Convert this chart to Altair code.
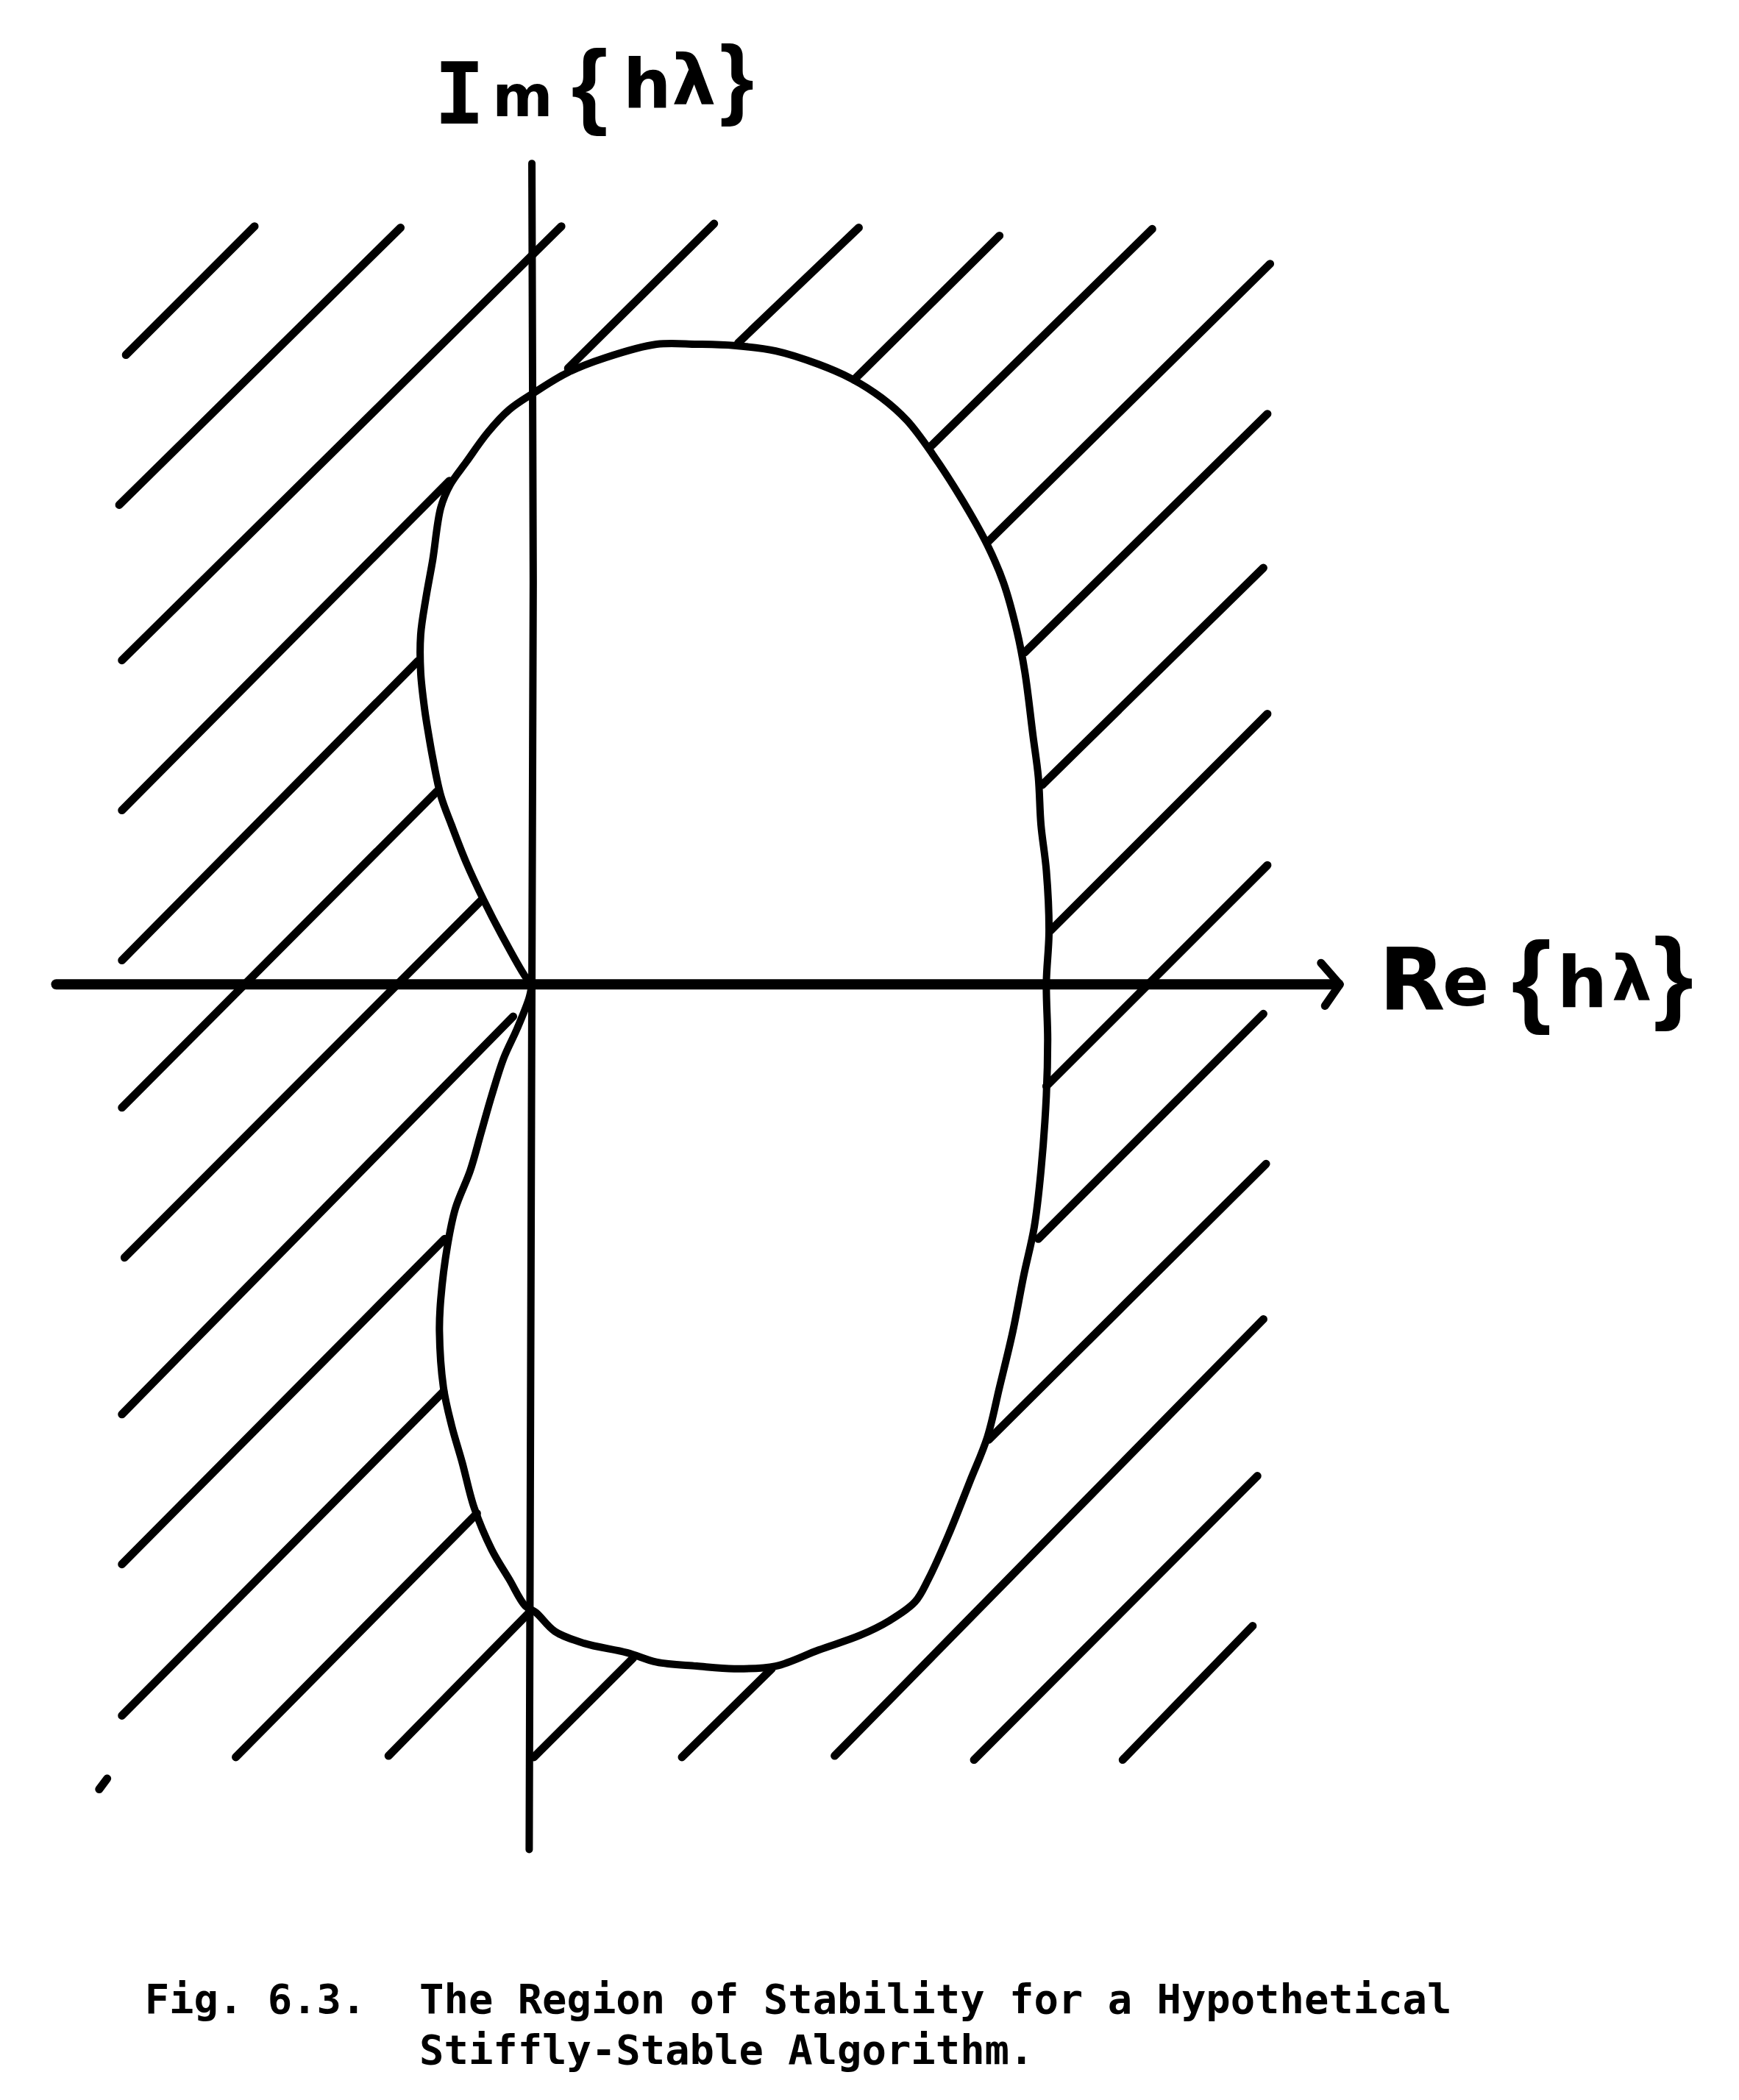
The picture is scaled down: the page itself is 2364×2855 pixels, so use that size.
import altair as alt
import pandas as pd

# ---- diagram units: Re{h lambda} to the right, Im{h lambda} up ----
CURVE_RE = [0.00, -0.05, -0.21, -0.36, -0.49, -0.60, -0.68, -0.74, -0.77, -0.80, -0.83, -0.83, -0.79, -0.74,
            -0.68, -0.61, -0.49, -0.33, -0.17, 0.02, 0.27, 0.55, 0.93, 1.23, 1.51, 1.82, 2.14, 2.39, 2.61,
            2.80, 2.99, 3.21, 3.40, 3.52, 3.62, 3.68, 3.74, 3.78, 3.80, 3.84, 3.86, 3.84, 3.85, 3.84, 3.80,
            3.75, 3.67, 3.59, 3.49, 3.40, 3.27, 3.11, 2.96, 2.86, 2.67, 2.45, 2.14, 1.82, 1.51, 1.23, 0.93,
            0.71, 0.39, 0.17, 0.03, -0.05, -0.17, -0.30, -0.43, -0.52, -0.60, -0.66, -0.69, -0.68, -0.63,
            -0.57, -0.46, -0.38, -0.30, -0.21, -0.11, -0.02, 0.00]
CURVE_IM = [0.00, 0.06, 0.34, 0.63, 0.91, 1.19, 1.41, 1.69, 1.86, 2.05, 2.33, 2.61, 2.89, 3.17,
            3.56, 3.73, 3.90, 4.12, 4.29, 4.42, 4.57, 4.68, 4.78, 4.78, 4.77, 4.73, 4.63, 4.52, 4.38,
            4.21, 3.96, 3.62, 3.28, 3.00, 2.64, 2.33, 1.86, 1.55, 1.19, 0.85, 0.40, 0.01, -0.41, -0.83, -1.39,
            -1.81, -2.18, -2.59, -3.01, -3.38, -3.71, -4.11, -4.44, -4.61, -4.75, -4.86, -4.97, -5.09, -5.11, -5.09, -5.06,
            -4.99, -4.92, -4.83, -4.69, -4.64, -4.44, -4.22, -3.91, -3.57, -3.29, -3.01, -2.59, -2.35, -1.95,
            -1.67, -1.39, -1.11, -0.83, -0.55, -0.33, -0.10, 0.00]

# hatch strokes (start and end)
HATCH_RE1 = [-3.03, -3.08, -3.06, 0.27, 1.54, 2.405, 2.97, 3.41, 3.68, 3.81, 3.87, 3.84, 3.78, 3.41,
             2.26, 3.30, 4.41, 1.12, 0.015, -3.06, -3.06, -3.06, -3.04, -3.06, -3.06, -3.06, -2.21, -1.07,
             -3.23]
HATCH_IM1 = [4.70, 3.58, 2.42, 4.60, 4.79, 4.515, 4.01, 3.31, 2.48, 1.49, 0.40, -0.76, -1.90, -3.40,
             -5.76, -5.79, -5.79, -5.77, -5.77, 1.30, 0.18, -0.92, -2.04, -3.21, -4.33, -5.46, -5.77, -5.76,
             -6.01]
HATCH_RE2 = [-2.07, -0.98, 0.22, 1.36, 2.44, 3.49, 4.63, 5.51, 5.49, 5.46, 5.49, 5.49, 5.46, 5.48,
             5.46, 5.415, 5.38, 1.79, 0.756, -0.615, -0.85, -0.71, -0.38, -0.14, -0.65, -0.66, -0.41, -0.02,
             -3.17]
HATCH_IM2 = [5.66, 5.65, 5.66, 5.68, 5.65, 5.59, 5.64, 5.38, 4.26, 3.11, 2.02, 0.89, -0.22, -1.34,
             -2.50, -3.67, -4.79, -5.11, -5.03, 3.76, 2.415, 1.44, 0.625, -0.24, -1.90, -3.04, -3.95, -4.69,
             -5.93]

IM_AXIS_RE = [0.00, 0.01, 0.00, -0.02]
IM_AXIS_IM = [6.13, 3.00, 0.00, -6.46]
RE_AXIS_RE = [-3.55]
RE_AXIS_RE2 = [6.02]
ARROW_RE = [5.89, 6.03, 5.92]
ARROW_IM = [0.16, 0.00, -0.16]

# hand-lettered axis labels, one glyph each
LABEL_CHARS = ["I", "m", "{", "h", "λ", "}", "R", "e", "{", "h", "λ", "}"]
LABEL_RE = [-0.54, -0.07, 0.43, 0.86, 1.21, 1.53, 6.57, 6.97, 7.46, 7.84, 8.21, 8.52]
LABEL_IM = [6.43, 6.48, 6.48, 6.54, 6.57, 6.54, -0.19, -0.16, -0.22, -0.17, -0.12, -0.19]
LABEL_SIZE = [115, 79, 128, 92, 95, 120, 117, 93, 140, 96, 86, 140]
LABEL_FONT = ["DejaVu Sans Mono", "DejaVu Sans", "Liberation Sans", "DejaVu Sans", "DejaVu Sans",
              "Liberation Sans", "DejaVu Sans", "DejaVu Sans", "Liberation Sans", "DejaVu Sans",
              "DejaVu Sans", "Liberation Sans"]

CAPTION_TEXT = ["Fig. 6.3.", "The Region of Stability for a Hypothetical", "Stiffly-Stable Algorithm."]
CAPTION_RE = [-2.89, -0.84, -0.84]
CAPTION_IM = [-7.68, -7.68, -8.06]

XDOM = [-3.92607, 8.92216]
YDOM = [-8.2365, 7.30606]

xs = alt.Scale(domain=XDOM, nice=False, zero=False)
ys = alt.Scale(domain=YDOM, nice=False, zero=False)

curve_df = pd.DataFrame({"re": CURVE_RE, "im": CURVE_IM, "i": range(len(CURVE_RE))})
hatch_df = pd.DataFrame({"re1": HATCH_RE1, "im1": HATCH_IM1, "re2": HATCH_RE2, "im2": HATCH_IM2})
imaxis_df = pd.DataFrame({"re": IM_AXIS_RE, "im": IM_AXIS_IM, "i": range(len(IM_AXIS_RE))})
reaxis_df = pd.DataFrame({"re1": RE_AXIS_RE, "re2": RE_AXIS_RE2, "im": [0.0]})
arrow_df = pd.DataFrame({"re": ARROW_RE, "im": ARROW_IM, "i": range(len(ARROW_RE))})
label_df = pd.DataFrame({"ch": LABEL_CHARS, "re": LABEL_RE, "im": LABEL_IM, "fs": LABEL_SIZE,
                         "font": LABEL_FONT})
cap_df = pd.DataFrame({"txt": CAPTION_TEXT, "re": CAPTION_RE, "im": CAPTION_IM})

X = lambda f: alt.X(f, scale=xs, axis=None)
Y = lambda f: alt.Y(f, scale=ys, axis=None)

hatch = alt.Chart(hatch_df).mark_rule(color="black", strokeWidth=11, strokeCap="round").encode(
    x=X("re1:Q"), y=Y("im1:Q"), x2="re2:Q", y2="im2:Q")

curve = alt.Chart(curve_df).mark_line(color="black", strokeWidth=10, interpolate="catmull-rom",
                                      strokeJoin="round", strokeCap="round").encode(
    x=X("re:Q"), y=Y("im:Q"), order="i:Q")

imaxis = alt.Chart(imaxis_df).mark_line(color="black", strokeWidth=10, strokeCap="round").encode(
    x=X("re:Q"), y=Y("im:Q"), order="i:Q")

reaxis = alt.Chart(reaxis_df).mark_rule(color="black", strokeWidth=14, strokeCap="round").encode(
    x=X("re1:Q"), x2="re2:Q", y=Y("im:Q"))

arrow = alt.Chart(arrow_df).mark_line(color="black", strokeWidth=11, strokeCap="round",
                                      strokeJoin="round").encode(
    x=X("re:Q"), y=Y("im:Q"), order="i:Q")

label_layers = []
for fnt in sorted(set(LABEL_FONT)):
    label_layers.append(
        alt.Chart(label_df).transform_filter(alt.datum.font == fnt).mark_text(
            font=fnt, fontWeight="bold", align="center", baseline="alphabetic", color="black").encode(
            x=X("re:Q"), y=Y("im:Q"), text="ch:N", size=alt.Size("fs:Q", scale=None, legend=None))
    )

caption = alt.Chart(cap_df).mark_text(font="DejaVu Sans Mono", fontWeight="bold", fontSize=55.5,
                                      align="left", baseline="alphabetic", color="black").encode(
    x=X("re:Q"), y=Y("im:Q"), text="txt:N")

chart = alt.layer(hatch, curve, imaxis, reaxis, arrow, *label_layers, caption).properties(
    width=2340, height=2830, padding=0, background="white",
    autosize=alt.AutoSizeParams(type="fit", contains="padding"),
).configure_view(strokeWidth=0)

chart.save("out.html", embed_options={"renderer": "svg", "actions": False})
